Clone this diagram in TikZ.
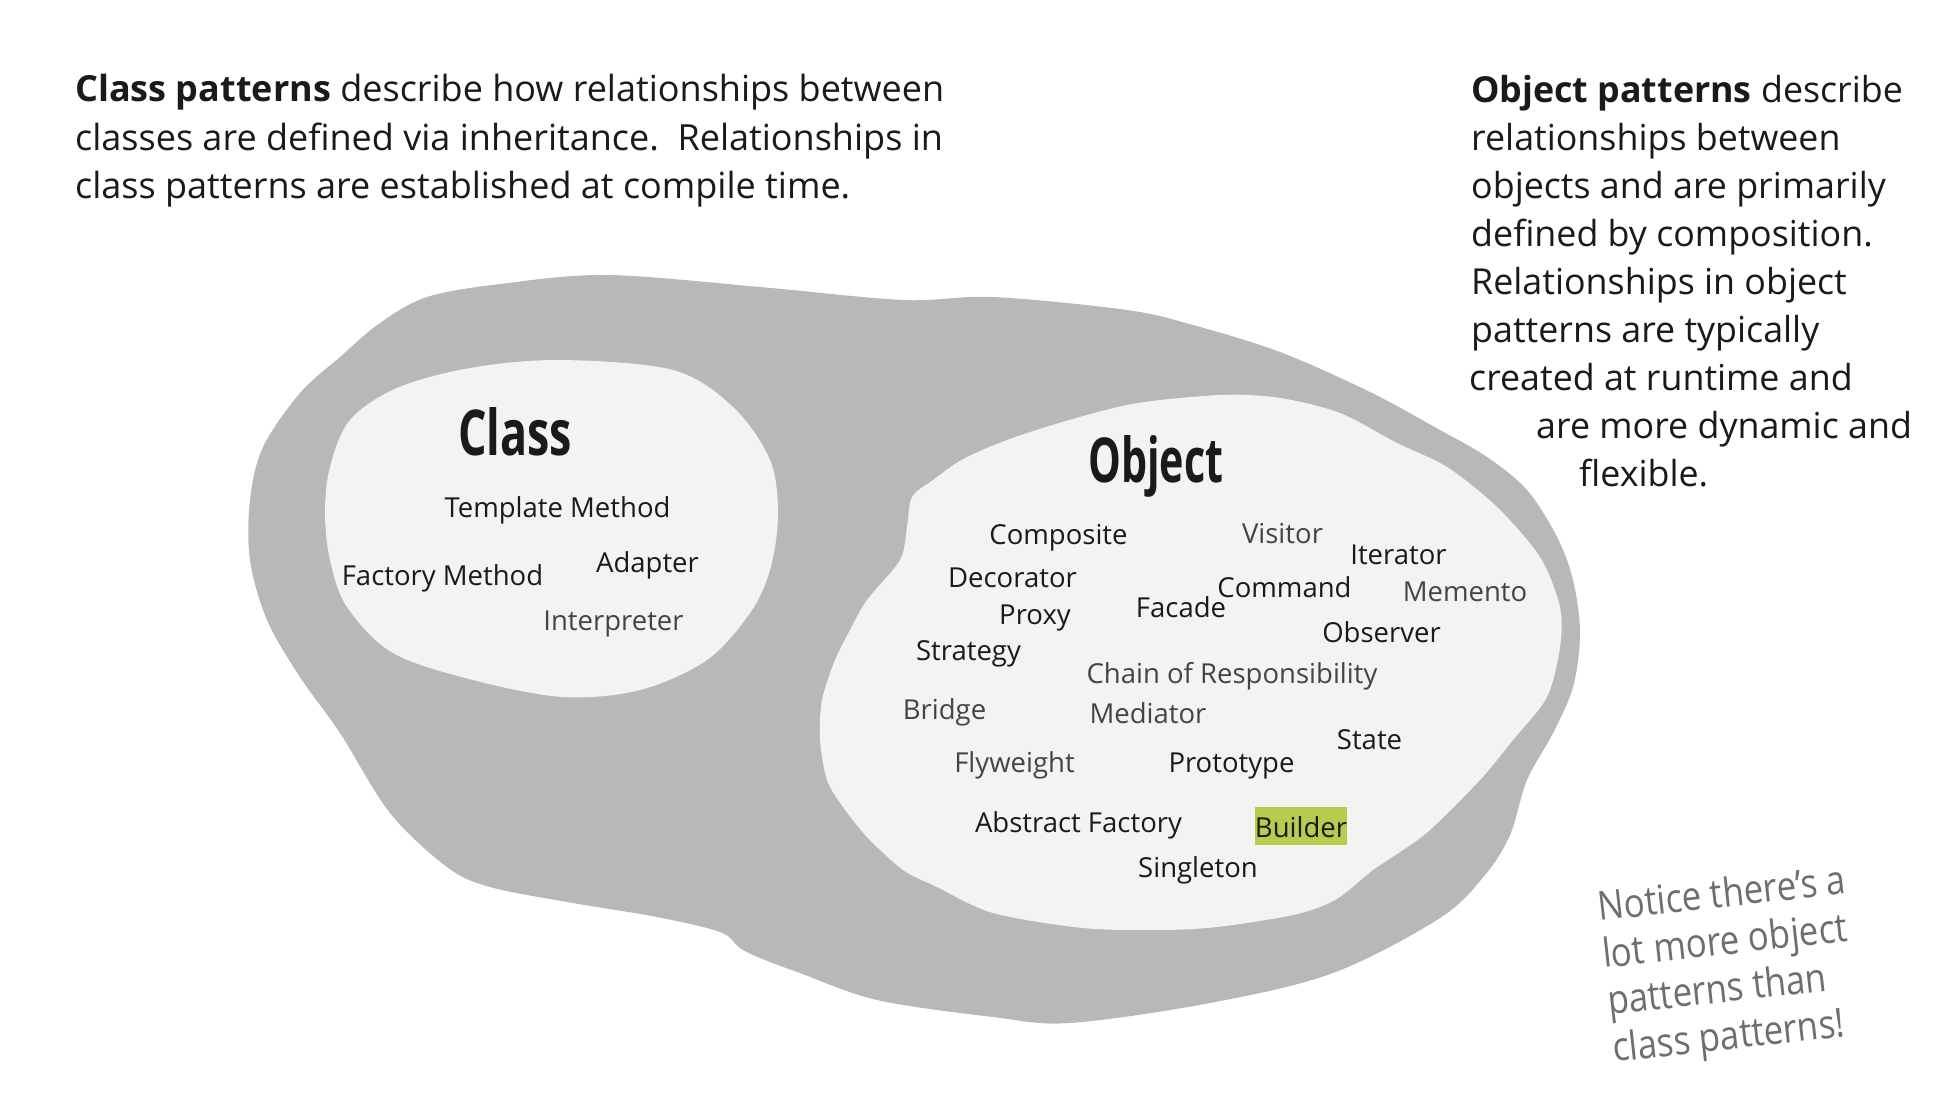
\documentclass[tikz,border=0pt]{standalone}
\usepackage{fontspec}
\setmainfont{Open Sans}
\usepackage{graphicx}
\definecolor{blobgray}{RGB}{184,184,183}
\definecolor{paper}{RGB}{244,243,241}
\definecolor{ink}{RGB}{26,26,26}
\definecolor{inkgray}{RGB}{68,68,68}
\definecolor{notegray}{RGB}{110,110,110}
\definecolor{buildergreen}{RGB}{181,204,76}
\begin{document}
\begin{tikzpicture}[x=1pt,y=-1pt,
  lpara/.style={anchor=base west, inner sep=0pt, text=ink, font=\fontsize{36}{42}\selectfont},
  rpara/.style={lpara, font=\fontsize{35.8}{42}\selectfont},
  titletext/.style={anchor=base west, inner sep=0pt, text=ink},
  patname/.style={anchor=base, inner sep=0pt, text=ink, font=\fontsize{27.5}{33}\selectfont},
  patgrey/.style={patname, text=inkgray},
  notetext/.style={anchor=base west, inner sep=0pt, text=notegray, rotate=6.3, font=\fontsize{40}{48}\selectfont},
  outerblob/.style={fill=blobgray},
  innerblob/.style={fill=paper},
  highlight/.style={fill=buildergreen, inner xsep=0pt, inner ysep=4pt, minimum width=92pt, text height=26pt, text depth=4pt},
]
\fill[white] (0,0) rectangle (1942,1096);
\useasboundingbox (0,0) rectangle (1942,1096);

% outer grey blob
\path[outerblob] plot[smooth cycle, tension=0.55] coordinates {
 (427,297) (500,284) (607,275) (760,287) (903,300) (993,297) (1127,310) (1193,325)
 (1280,352) (1370,392) (1440,430) (1487,457) (1527,490) (1557,537) (1573,580) (1580,633)
 (1573,687) (1553,733) (1527,780) (1510,835) (1485,875) (1440,918) (1333,973) (1210,1003)
 (1070,1023) (993,1017) (877,1000) (800,973) (760,958) (740,948) (720,932) (657,917)
 (573,903) (490,887) (447,867) (390,813) (340,733) (300,677) (267,620) (250,560)
 (250,500) (263,447) (300,393) (340,357) (380,323)};

% class region
\path[innerblob] plot[smooth cycle, tension=0.55] coordinates {
 (470,368) (560,360) (673,370) (733,407) (770,460) (778,515) (770,570) (750,613)
 (707,660) (640,690) (563,697) (473,680) (393,653) (347,607) (330,560) (325,513)
 (330,467) (350,420) (397,388)};

% object region
\path[innerblob] plot[smooth cycle, tension=0.5] coordinates {
 (1127,405) (1220,395) (1280,398) (1340,413) (1397,443) (1447,467) (1497,507) (1540,557)
 (1560,607) (1560,647) (1547,697) (1513,740) (1480,780) (1430,830) (1400,852) (1373,870)
 (1335,900) (1293,915) (1217,927) (1160,930) (1083,928) (993,913) (937,887) (903,870)
 (867,837) (843,807) (827,780) (820,740) (822,700) (835,660) (850,630) (867,600)
 (900,560) (907,527) (912,497) (933,480) (967,457) (1027,433)};

% left paragraph
\node[lpara] (cp1) at (75,101) {\textbf{Class patterns} describe how relationships between};
\node[lpara] (cp2) at (75,150) {classes are defined via inheritance.\ \ Relationships in};
\node[lpara] (cp3) at (75,198) {class patterns are established at compile time.};

% right paragraph
\node[rpara] (op1) at (1471,102) {\textbf{Object patterns} describe};
\node[rpara] (op2) at (1471,150) {relationships between};
\node[rpara] (op3) at (1471,198) {objects and are primarily};
\node[rpara] (op4) at (1471,246) {defined by composition.};
\node[rpara] (op5) at (1471,294) {Relationships in object};
\node[rpara] (op6) at (1471,342) {patterns are typically};
\node[rpara] (op7) at (1469,390) {created at runtime and};
\node[rpara] (op8) at (1536,438) {are more dynamic and};
\node[rpara] (op9) at (1579,486) {flexible.};

% titles
\node[titletext] (classtitle) at (458,455) {\resizebox{114pt}{48pt}{\fontsize{60}{60}\selectfont\bfseries Class}};
\node[titletext] (objecttitle) at (1088,482) {\resizebox{135pt}{47pt}{\fontsize{60}{60}\selectfont\bfseries Object}};

% class patterns
\node[patname] (templatemethod) at (557.5,517) {Template Method};
\node[patname] (factorymethod) at (442.5,585) {Factory Method};
\node[patname] (adapter) at (647.5,572) {Adapter};
\node[patgrey] (interpreter) at (613.5,630) {Interpreter};

% object patterns
\node[patname] (composite) at (1058.5,544) {Composite};
\node[patgrey] (visitor) at (1282.5,543) {Visitor};
\node[patname] (iterator) at (1398.5,564) {Iterator};
\node[patname] (decorator) at (1012.5,587) {Decorator};
\node[patname] (command) at (1284.5,597) {Command};
\node[patgrey] (memento) at (1465,601) {Memento};
\node[patname] (proxy) at (1035,624) {Proxy};
\node[patname] (facade) at (1181,617) {Facade};
\node[patname] (observer) at (1381.5,642) {Observer};
\node[patname] (strategy) at (968.5,660) {Strategy};
\node[patgrey] (chain) at (1232,683) {Chain of Responsibility};
\node[patgrey] (bridge) at (944.5,719) {Bridge};
\node[patgrey] (mediator) at (1148,723) {Mediator};
\node[patname] (state) at (1369.5,749) {State};
\node[patgrey] (flyweight) at (1014.5,772) {Flyweight};
\node[patname] (prototype) at (1231.5,772) {Prototype};
\node[patname] (abstractfactory) at (1078.5,832) {Abstract Factory};
\node[patname, highlight] (builder) at (1301,837) {Builder};
\node[patname] (singleton) at (1198,877) {Singleton};

% handwritten note
\node[notetext] (note1) at (1599,921) {\scalebox{0.87}[1]{Notice there’s a}};
\node[notetext] (note2) at (1604,968) {\scalebox{0.87}[1]{lot more object}};
\node[notetext] (note3) at (1609,1015) {\scalebox{0.87}[1]{patterns than}};
\node[notetext] (note4) at (1614,1062) {\scalebox{0.87}[1]{class patterns!}};
\end{tikzpicture}
\end{document}
